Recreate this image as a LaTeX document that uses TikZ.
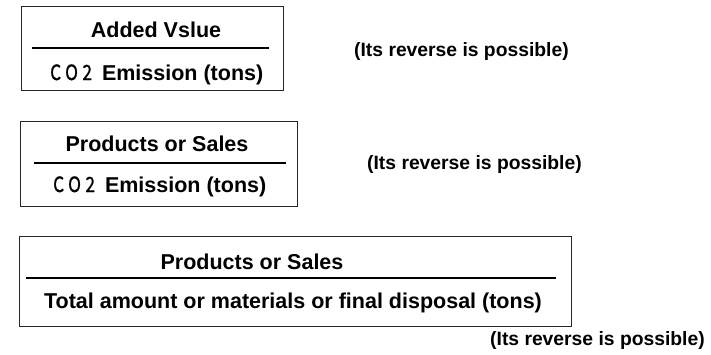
\documentclass[tikz,border=0pt]{standalone}
\usepackage{fontspec}
\setmainfont{Liberation Sans}
\newfontfamily\cjk[FakeBold=0.9,FakeStretch=0.82]{Noto Sans CJK JP}
% CO2 set in a narrow gothic face with open letter spacing
\newcommand{\cotwo}{{\cjk\mdseries\fontsize{21}{23}\selectfont C\kern4pt O\kern4.5pt 2}}
\begin{document}
\begin{tikzpicture}[x=1pt,y=-1pt,
  frame/.style={draw=black!85, line width=0.9pt, inner sep=0pt},
  rule/.style={line width=2pt},
  txt/.style={inner sep=0pt, font=\fontsize{21.5}{25}\selectfont\bfseries},
  note/.style={inner sep=0pt, font=\fontsize{19.3}{23}\selectfont\bfseries}]
\useasboundingbox (0,0) rectangle (711,354);

% first ratio box
\node[frame, minimum width=262pt, minimum height=84pt] (b1) at (152,48) {};
\coordinate (r1a) at (32,48);
\coordinate (r1b) at (269,48);
\draw[rule] (r1a) -- (r1b);
\node[txt, anchor=base] (n1) at (156,37) {Added Vslue};
\node[txt, anchor=base west] (d1) at (50,80) {\cotwo\kern10pt Emission (tons)};
\node[note, anchor=base west] (c1) at (354,56) {(Its reverse is possible)};

% second ratio box
\node[frame, minimum width=277pt, minimum height=85pt] (b2) at (158.5,163.5) {};
\coordinate (r2a) at (34,163);
\coordinate (r2b) at (286,163);
\draw[rule] (r2a) -- (r2b);
\node[txt, anchor=base] (n2) at (157,151) {Products or Sales};
\node[txt, anchor=base west] (d2) at (53,192) {\cotwo\kern10pt Emission (tons)};
\node[note, anchor=base west] (c2) at (367,169) {(Its reverse is possible)};

% third ratio box
\node[frame, minimum width=552pt, minimum height=90pt] (b3) at (295,281) {};
\coordinate (r3a) at (26,278);
\coordinate (r3b) at (556,278);
\draw[rule] (r3a) -- (r3b);
\node[txt, anchor=base] (n3) at (252,269) {Products or Sales};
\node[txt, anchor=base] (d3) at (293,308) {Total amount or materials or final disposal (tons)};
\node[note, anchor=base west] (c3) at (490,345) {(Its reverse is possible)};
\end{tikzpicture}
\end{document}
